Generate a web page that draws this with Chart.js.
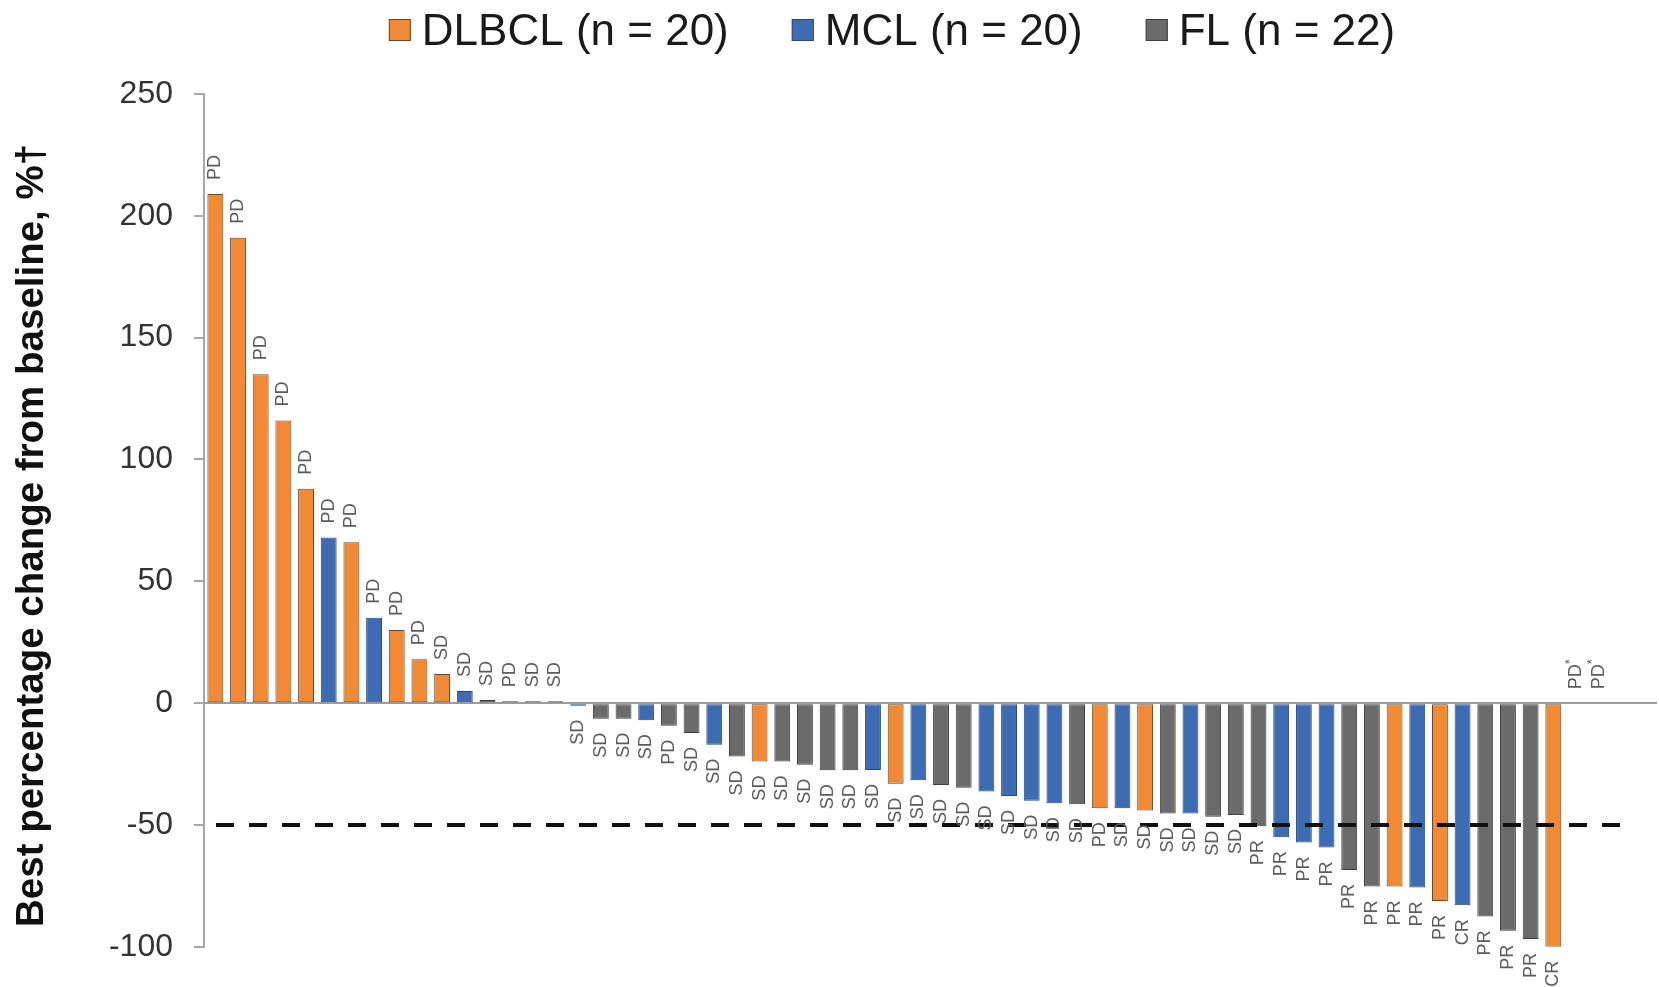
<!DOCTYPE html>
<html>
<head>
<meta charset="utf-8">
<script src="https://cdn.jsdelivr.net/npm/chart.js@4.4.1/dist/chart.umd.min.js"></script>
<style>
  html, body { margin: 0; padding: 0; background: #ffffff; }
  #wrap { width: 1659px; height: 987px; }
</style>
</head>
<body>
<div id="wrap"><canvas id="waterfall" width="1659" height="987"></canvas></div>
<script>
// Best percentage change in tumour size per patient, sorted high to low.
const values = [
  209, 191, 135, 116, 88, 68, 66, 35, 30, 18,
  12, 5, 1.3, 0.8, 0.8, 0.8, -1.1, -6.4, -6.4, -7,
  -9.3, -12.3, -17.1, -21.9, -24, -24, -25.3, -27.5, -27.5, -27.4,
  -33.1, -31.6, -33.6, -34.7, -36.3, -38.1, -40.1, -41.1, -41.5, -43.1,
  -43.1, -44.1, -45.3, -45.3, -46.6, -45.9, -50.5, -55, -57.2, -59.2,
  -68.5, -75.3, -75.3, -75.7, -81.2, -82.9, -87.6, -93.4, -96.8, -100,
  null, null
];

// Histology of each patient (same order as values).
const groups = [
  'DLBCL', 'DLBCL', 'DLBCL', 'DLBCL', 'DLBCL', 'MCL', 'DLBCL', 'MCL', 'DLBCL', 'DLBCL',
  'DLBCL', 'MCL', 'FL', 'FL', 'FL', 'MCL', 'MCL', 'FL', 'FL', 'MCL',
  'FL', 'FL', 'MCL', 'FL', 'DLBCL', 'FL', 'FL', 'FL', 'FL', 'MCL',
  'DLBCL', 'MCL', 'FL', 'FL', 'MCL', 'MCL', 'MCL', 'MCL', 'FL', 'DLBCL',
  'MCL', 'DLBCL', 'FL', 'MCL', 'FL', 'FL', 'FL', 'MCL', 'MCL', 'MCL',
  'FL', 'FL', 'DLBCL', 'MCL', 'DLBCL', 'MCL', 'FL', 'FL', 'FL', 'DLBCL',
  'DLBCL', 'DLBCL'
];

// Best overall response of each patient.
const responses = [
  'PD', 'PD', 'PD', 'PD', 'PD', 'PD', 'PD', 'PD', 'PD', 'PD',
  'SD', 'SD', 'SD', 'PD', 'SD', 'SD', 'SD', 'SD', 'SD', 'SD',
  'PD', 'SD', 'SD', 'SD', 'SD', 'SD', 'SD', 'SD', 'SD', 'SD',
  'SD', 'SD', 'SD', 'SD', 'SD', 'SD', 'SD', 'SD', 'SD', 'PD',
  'SD', 'SD', 'SD', 'SD', 'SD', 'SD', 'PR', 'PR', 'PR', 'PR',
  'PR', 'PR', 'PR', 'PR', 'PR', 'CR', 'PR', 'PR', 'PR', 'CR',
  'PD*', 'PD*'
];

const patients = values.map((_, i) => String(i + 1));

const groupNames   = ['DLBCL', 'MCL', 'FL'];
const legendLabels = ['DLBCL (n = 20)', 'MCL (n = 20)', 'FL (n = 22)'];
const groupFill    = ['#F08A36', '#3D6CB3', '#6B6B6B'];
const groupEdge    = ['#6e4626', '#26487f', '#3f3f3f'];

const yTicks = [-100, -50, 0, 50, 100, 150, 200, 250];
const responseThreshold = -50;
const yTitle = 'Best percentage change from baseline, %\u2020';

const FONT = "'Liberation Sans', Arial, Helvetica, sans-serif";

const datasets = groupNames.map((g, gi) => ({
  label: legendLabels[gi],
  data: values.map((v, i) => (groups[i] === g ? v : null)),
  backgroundColor: groupFill[gi],
  borderColor: groupEdge[gi],
  borderWidth: 1,
  borderSkipped: false,
  barPercentage: 0.7,
  categoryPercentage: 1.0
}));

// Zero baseline running across the whole plot.
const zeroLine = {
  id: 'zeroLine',
  beforeDatasetsDraw(chart) {
    const { ctx, chartArea, scales: { y } } = chart;
    const y0 = Math.round(y.getPixelForValue(0));
    ctx.save();
    ctx.strokeStyle = '#9c9c9c';
    ctx.lineWidth = 2;
    ctx.beginPath();
    ctx.moveTo(chartArea.left, y0);
    ctx.lineTo(chart.width - 2, y0);
    ctx.stroke();
    ctx.restore();
  }
};

// Dashed reference line at the partial-response threshold.
const thresholdLine = {
  id: 'thresholdLine',
  afterDatasetsDraw(chart) {
    const { ctx, chartArea, scales: { y } } = chart;
    const yy = y.getPixelForValue(responseThreshold);
    ctx.save();
    ctx.strokeStyle = '#111111';
    ctx.lineWidth = 4;
    ctx.setLineDash([18, 15]);
    ctx.beginPath();
    ctx.moveTo(chartArea.left + 12, yy);
    ctx.lineTo(chartArea.right + 12, yy);
    ctx.stroke();
    ctx.restore();
  }
};

// Rotated response labels beyond the end of each bar.
const responseLabels = {
  id: 'responseLabels',
  afterDatasetsDraw(chart) {
    const { ctx, scales: { x, y } } = chart;
    const gap = 14;
    ctx.save();
    ctx.fillStyle = '#5c5c5c';
    ctx.textBaseline = 'middle';
    responses.forEach((txt, i) => {
      const v = values[i];
      const px = x.getPixelForValue(i);
      const end = y.getPixelForValue(v === null ? 0 : v);
      const up = v === null || v >= 0;
      const star = txt.endsWith('*');
      const base = star ? txt.slice(0, -1) : txt;
      ctx.save();
      ctx.translate(px, up ? end - gap : end + gap);
      ctx.rotate(-Math.PI / 2);
      ctx.font = '18px ' + FONT;
      const w = ctx.measureText(base).width;
      ctx.textAlign = 'left';
      const startX = up ? 0 : -w;
      ctx.fillText(base, startX, 0);
      if (star) {
        ctx.font = '13px ' + FONT;
        ctx.fillText('*', startX + w, -6);
      }
      ctx.restore();
    });
    ctx.restore();
  }
};

// Vertical axis title, set a little below the middle of the axis.
const axisTitle = {
  id: 'axisTitle',
  afterDraw(chart) {
    const { ctx, chartArea } = chart;
    ctx.save();
    ctx.translate(32, (chartArea.top + chartArea.bottom) / 2 + 15);
    ctx.rotate(-Math.PI / 2);
    ctx.font = 'bold 38.5px ' + FONT;
    ctx.fillStyle = '#111111';
    ctx.textAlign = 'center';
    ctx.textBaseline = 'middle';
    ctx.fillText(yTitle, 0, 0);
    ctx.restore();
  }
};

// Legend row across the top.
const topLegend = {
  id: 'topLegend',
  afterDraw(chart) {
    const ctx = chart.ctx;
    const box = 22, textGap = 11, itemGap = 63, centerX = 892, boxTop = 19, baseline = 45;
    ctx.save();
    ctx.font = '44px ' + FONT;
    const ds = chart.data.datasets;
    const widths = ds.map(d => ctx.measureText(d.label).width);
    const total = widths.reduce((a, w) => a + box + textGap + w, 0) + itemGap * (ds.length - 1);
    let cx = centerX - total / 2;
    ds.forEach((d, i) => {
      ctx.fillStyle = d.backgroundColor;
      ctx.fillRect(cx, boxTop, box, box);
      ctx.strokeStyle = d.borderColor;
      ctx.lineWidth = 1;
      ctx.strokeRect(cx + 0.5, boxTop + 0.5, box - 1, box - 1);
      ctx.fillStyle = '#1a1a1a';
      ctx.textBaseline = 'alphabetic';
      ctx.textAlign = 'left';
      ctx.fillText(d.label, cx + box + textGap, baseline);
      cx += box + textGap + widths[i] + itemGap;
    });
    ctx.restore();
  }
};

new Chart(document.getElementById('waterfall'), {
  type: 'bar',
  data: { labels: patients, datasets },
  plugins: [zeroLine, thresholdLine, responseLabels, axisTitle, topLegend],
  options: {
    responsive: false,
    animation: false,
    devicePixelRatio: 1,
    layout: { padding: { top: 94, bottom: 39, left: 0, right: 49 } },
    plugins: {
      legend: { display: false },
      tooltip: { enabled: false }
    },
    scales: {
      x: {
        display: false,
        stacked: true
      },
      y: {
        stacked: true,
        min: Math.min(...yTicks),
        max: Math.max(...yTicks),
        afterBuildTicks(scale) { scale.ticks = yTicks.map(v => ({ value: v })); },
        afterFit(scale) { scale.width = 204; },
        ticks: {
          padding: 21,
          color: '#333333',
          font: { size: 32, family: FONT }
        },
        grid: {
          drawOnChartArea: false,
          drawTicks: true,
          tickLength: 10,
          color: '#a8a8a8',
          lineWidth: 2
        },
        border: { display: true, color: '#a8a8a8', width: 2 },
        title: { display: false }
      }
    }
  }
});
</script>
</body>
</html>
